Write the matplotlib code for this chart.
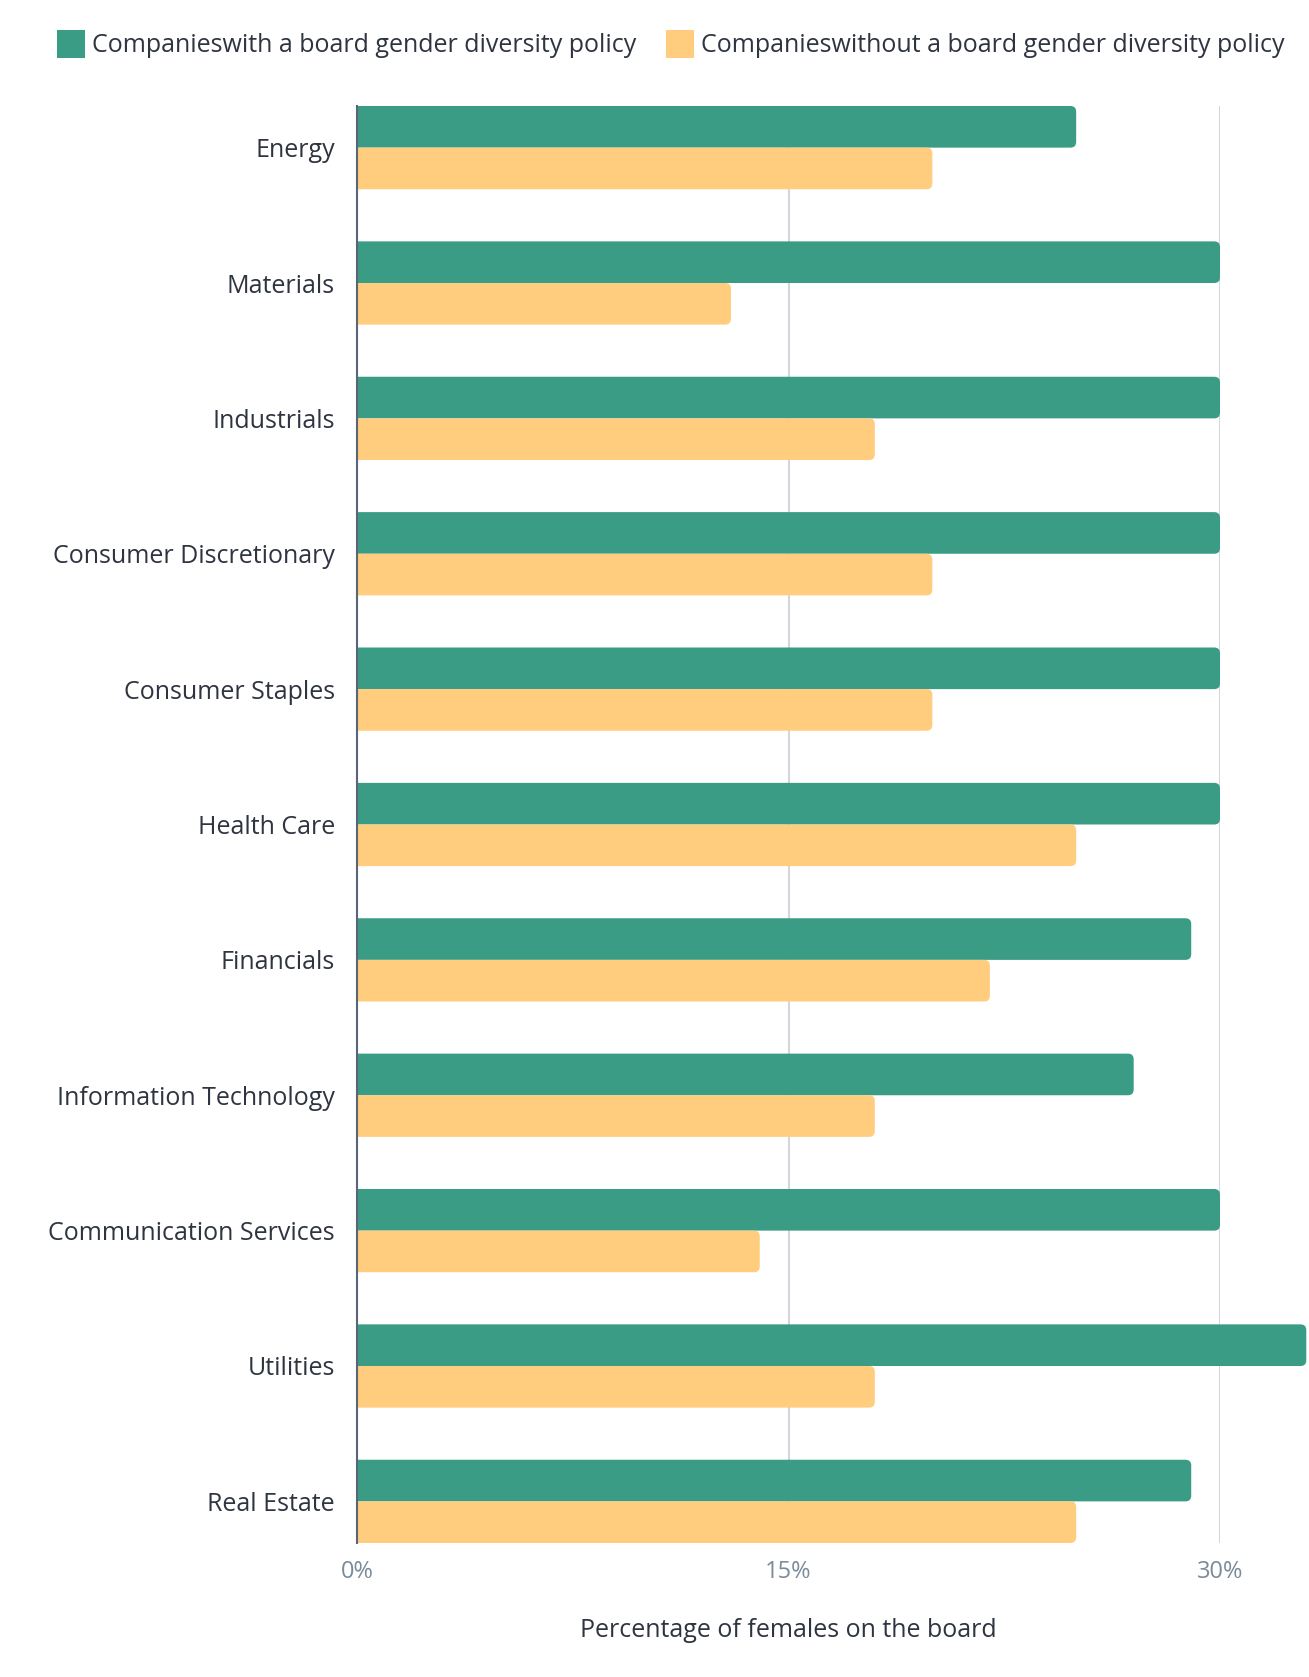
import matplotlib.pyplot as plt
from matplotlib.patches import Patch, FancyBboxPatch, Rectangle

sectors = ["Energy", "Materials", "Industrials", "Consumer Discretionary",
           "Consumer Staples", "Health Care", "Financials",
           "Information Technology", "Communication Services", "Utilities",
           "Real Estate"]
with_policy = [25, 30, 30, 30, 30, 30, 29, 27, 30, 33, 29]
without_policy = [20, 13, 18, 20, 20, 25, 22, 18, 14, 18, 25]
ticks = [0, 15, 30]
tick_labels = ["0%", "15%", "30%"]

green = "#3a9c84"
yellow = "#ffcd7d"
text_col = "#2e3440"

plt.rcParams['font.family'] = ['Open Sans', 'DejaVu Sans']

fig = plt.figure(figsize=(13.09, 16.77), dpi=100)
ax = fig.add_axes([357 / 1309, 134 / 1677, (1220 - 357) / 1309, (1543 - 106) / 1677])

h = 0.3075
ys = list(range(len(sectors)))
bars1 = ax.barh([y - h / 2 for y in ys], with_policy, height=h, color=green)
bars2 = ax.barh([y + h / 2 for y in ys], without_policy, height=h, color=yellow)

ax.set_ylim(len(sectors) - 1 + h, -h)
ax.set_xlim(0, 30)

# swap the square bars for ones with rounded ends, clipped at the axis line
r = 0.2
aspect = 28.77 / 135.5
clip = Rectangle((0, -0.1), 1.2, 1.2, transform=ax.transAxes, visible=False)
ax.add_artist(clip)
for bars in (bars1, bars2):
    for p in bars:
        x, y0, w, hh = p.get_x(), p.get_y(), p.get_width(), p.get_height()
        p.set_visible(False)
        fb = FancyBboxPatch((x - r, y0), w + r, hh,
                            boxstyle="round,pad=0,rounding_size=%g" % r,
                            mutation_aspect=aspect, facecolor=p.get_facecolor(),
                            edgecolor="none", zorder=3)
        ax.add_patch(fb)
        fb.set_clip_path(clip)

ax.set_yticks(ys)
ax.set_yticklabels(sectors, fontsize=18, color=text_col)
ax.set_xticks(ticks)
ax.set_xticklabels(tick_labels, fontsize=17, color="#7a8b9a")
ax.tick_params(axis="y", length=0, pad=16)
ax.tick_params(axis="x", length=0, pad=12)
ax.grid(axis="x", color="#d3d6dc", linewidth=1.5, zorder=0)
ax.set_axisbelow(True)
for s in ["top", "right", "bottom"]:
    ax.spines[s].set_visible(False)
ax.spines["left"].set_color("#5a6675")
ax.spines["left"].set_linewidth(1.5)
ax.spines["left"].set_zorder(4)
ax.set_xlabel("Percentage of females on the board", fontsize=18, color=text_col, labelpad=25)

handles = [Patch(facecolor=green, label="Companieswith a board gender diversity policy"),
           Patch(facecolor=yellow, label="Companieswithout a board gender diversity policy")]
fig.legend(handles=handles, loc="center left", bbox_to_anchor=(57 / 1309, 1 - 44 / 1677),
           ncol=2, frameon=False, fontsize=18, handlelength=1.1, handleheight=1.35,
           handletextpad=0.3, columnspacing=1.2, labelcolor=text_col,
           borderpad=0, borderaxespad=0)

fig.savefig("out.png", dpi=100, facecolor="white")
